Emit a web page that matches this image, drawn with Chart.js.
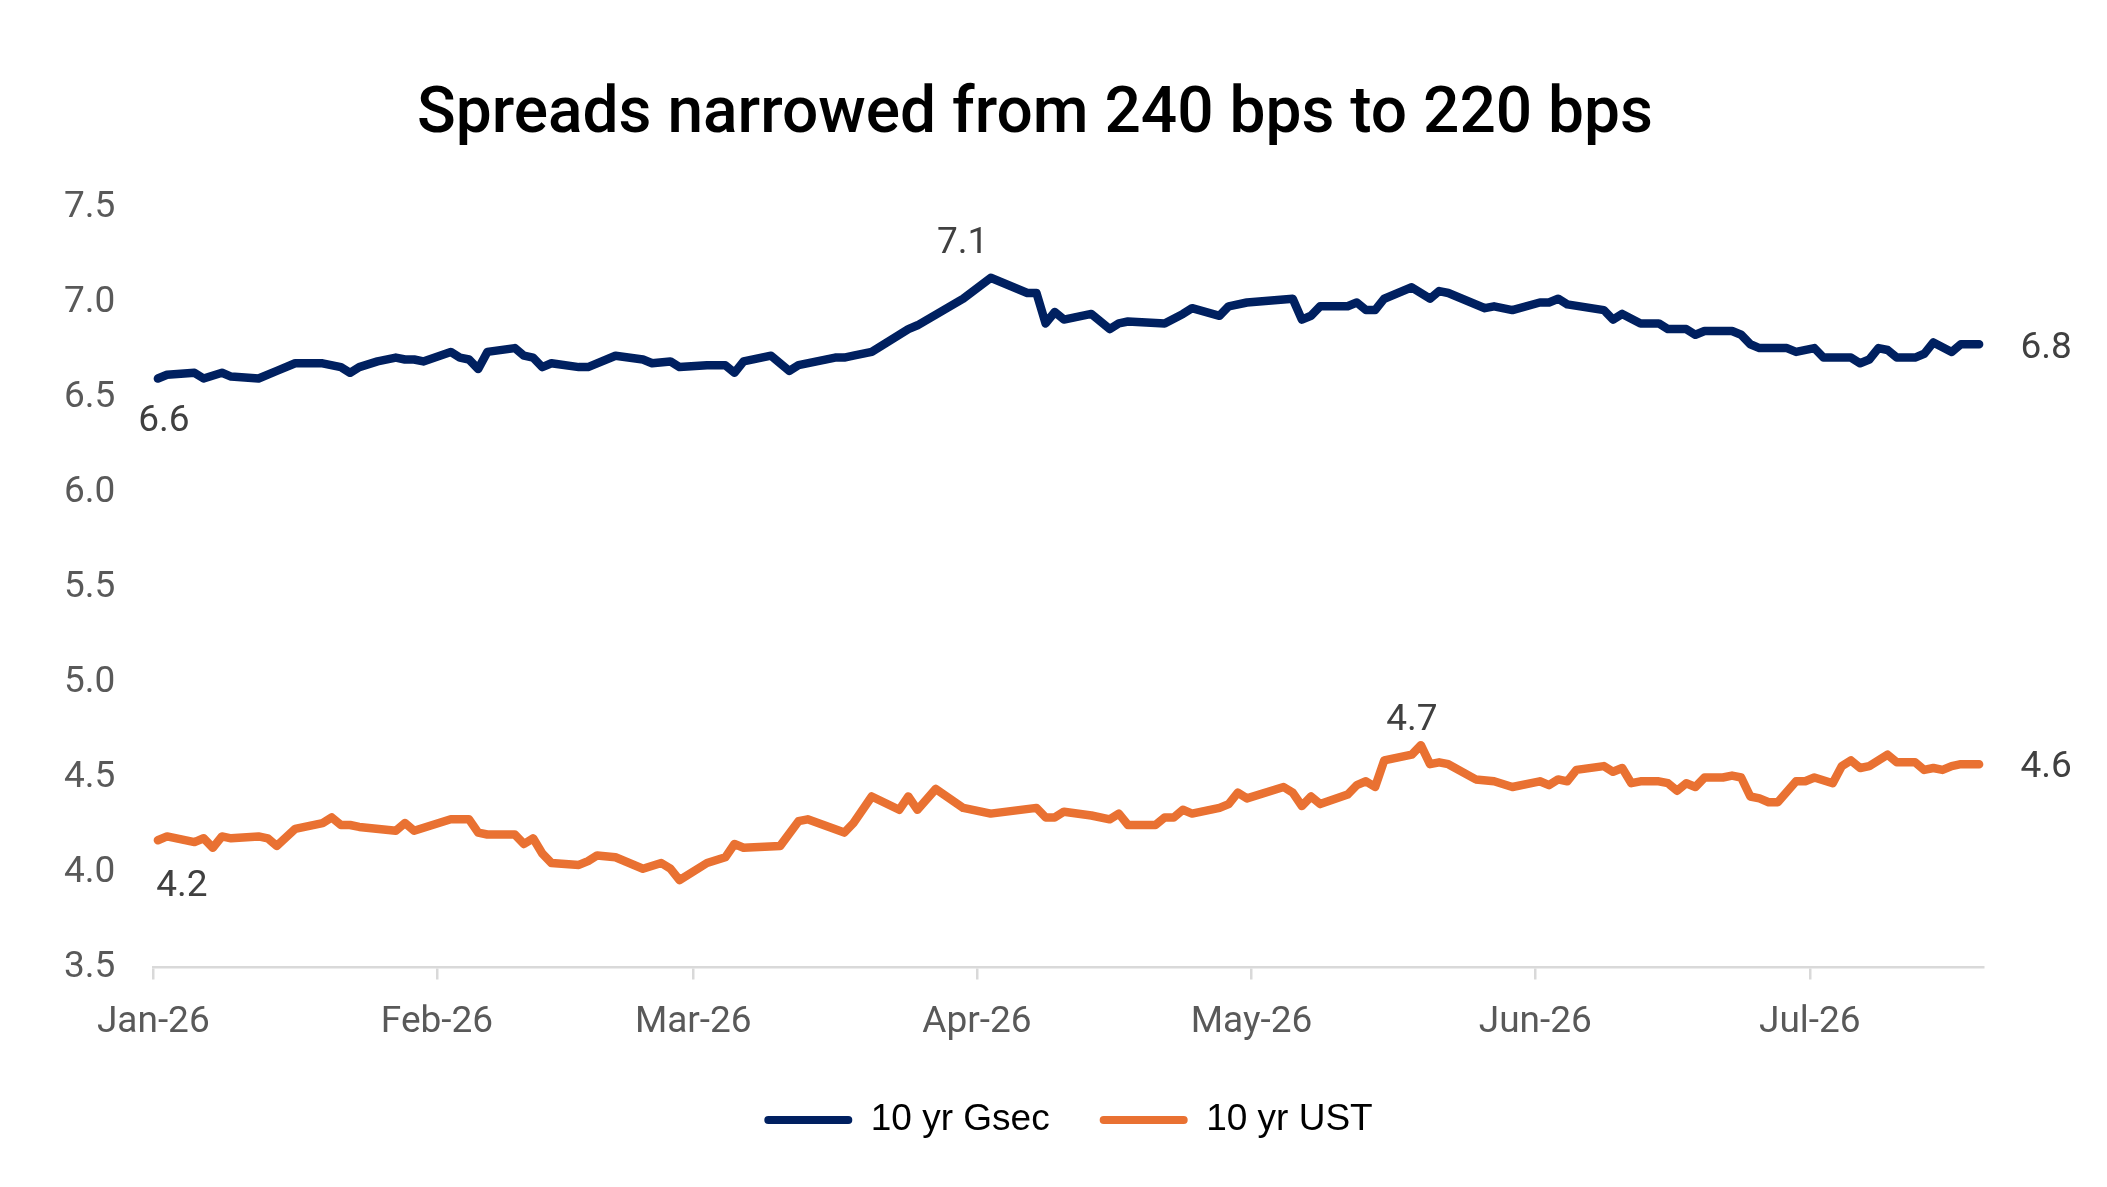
<!DOCTYPE html>
<html>
<head>
<meta charset="utf-8">
<script src="https://cdn.jsdelivr.net/npm/chart.js@4.4.1/dist/chart.umd.min.js"></script>
<style>
  html, body { margin: 0; padding: 0; background: #fff; }
  #wrap { width: 2107px; height: 1187px; }
</style>
</head>
<body>
<div id="wrap"><canvas id="spreads"></canvas></div>
<script>
// days are counted from 1 Jan 2026 (0 = Jan 1)
const monthStarts = [0, 31, 59, 90, 120, 151, 181];
const monthLabels = ["Jan-26", "Feb-26", "Mar-26", "Apr-26", "May-26", "Jun-26", "Jul-26"];

const gsecDays = [0, 1, 4, 5, 7, 8, 11, 13, 15, 18, 20, 21, 22, 24, 26, 27, 28, 29, 32, 33,
  34, 35, 36, 39, 40, 41, 42, 43, 46, 47, 50, 53, 54, 56, 57, 60, 62, 63, 64, 67,
  69, 70, 74, 75, 76, 78, 82, 83, 88, 91, 95, 96, 97, 98, 99, 102, 104, 105, 106, 110,
  112, 113, 116, 117, 119, 124, 125, 126, 127, 130, 131, 132, 133, 134, 137, 139, 140, 141, 145, 146,
  148, 151, 152, 153, 154, 158, 159, 160, 162, 164, 165, 167, 168, 169, 172, 173, 174, 175, 178, 179,
  181, 182, 185, 186, 187, 188, 189, 190, 192, 193, 194, 196, 197, 199];
const gsecYield = [6.60, 6.62, 6.63, 6.60, 6.63, 6.61, 6.60, 6.64, 6.68, 6.68, 6.66, 6.63, 6.66, 6.69, 6.71, 6.70, 6.70, 6.69, 6.74, 6.71,
  6.70, 6.65, 6.74, 6.76, 6.72, 6.71, 6.66, 6.68, 6.66, 6.66, 6.72, 6.70, 6.68, 6.69, 6.66, 6.67, 6.67, 6.63, 6.69, 6.72,
  6.64, 6.67, 6.71, 6.71, 6.72, 6.74, 6.86, 6.88, 7.02, 7.13, 7.05, 7.05, 6.89, 6.95, 6.91, 6.94, 6.86, 6.89, 6.90, 6.89,
  6.94, 6.97, 6.93, 6.98, 7.00, 7.02, 6.91, 6.93, 6.98, 6.98, 7.00, 6.96, 6.96, 7.02, 7.08, 7.02, 7.06, 7.05, 6.97, 6.98,
  6.96, 7.00, 7.00, 7.02, 6.99, 6.96, 6.91, 6.94, 6.89, 6.89, 6.86, 6.86, 6.83, 6.85, 6.85, 6.83, 6.78, 6.76, 6.76, 6.74,
  6.76, 6.71, 6.71, 6.68, 6.70, 6.76, 6.75, 6.71, 6.71, 6.73, 6.79, 6.74, 6.78, 6.78];

const ustDays = [0, 1, 4, 5, 6, 7, 8, 11, 12, 13, 15, 18, 19, 20, 21, 22, 26, 27, 28, 32,
  33, 34, 35, 36, 39, 40, 41, 42, 43, 46, 47, 48, 50, 53, 55, 56, 57, 60, 62, 63,
  64, 68, 70, 71, 75, 76, 78, 81, 82, 83, 85, 88, 91, 96, 97, 98, 99, 102, 104, 105,
  106, 109, 110, 111, 112, 113, 116, 117, 118, 119, 123, 124, 125, 126, 127, 130, 131, 132, 133, 134,
  137, 138, 139, 140, 141, 144, 146, 148, 151, 152, 153, 154, 155, 158, 159, 160, 161, 162, 164, 165,
  166, 167, 168, 169, 171, 172, 173, 174, 175, 176, 177, 179, 180, 181, 183, 184, 185, 186, 187, 189,
  190, 192, 193, 194, 195, 196, 197, 199];
const ustYield = [4.17, 4.19, 4.16, 4.18, 4.13, 4.19, 4.18, 4.19, 4.18, 4.14, 4.23, 4.26, 4.29, 4.25, 4.25, 4.24, 4.22, 4.26, 4.22, 4.28,
  4.28, 4.28, 4.21, 4.20, 4.20, 4.15, 4.18, 4.10, 4.05, 4.04, 4.06, 4.09, 4.08, 4.02, 4.05, 4.02, 3.96, 4.05, 4.08, 4.15,
  4.13, 4.14, 4.27, 4.28, 4.21, 4.26, 4.40, 4.33, 4.40, 4.33, 4.44, 4.34, 4.31, 4.34, 4.29, 4.29, 4.32, 4.30, 4.28, 4.31,
  4.25, 4.25, 4.29, 4.29, 4.33, 4.31, 4.34, 4.36, 4.42, 4.39, 4.45, 4.42, 4.35, 4.40, 4.36, 4.41, 4.46, 4.48, 4.45, 4.59,
  4.62, 4.67, 4.57, 4.58, 4.57, 4.49, 4.48, 4.45, 4.48, 4.46, 4.49, 4.48, 4.54, 4.56, 4.53, 4.55, 4.47, 4.48, 4.48, 4.47,
  4.43, 4.47, 4.45, 4.50, 4.50, 4.51, 4.50, 4.40, 4.39, 4.37, 4.37, 4.48, 4.48, 4.50, 4.47, 4.56, 4.59, 4.55, 4.56, 4.62,
  4.58, 4.58, 4.54, 4.55, 4.54, 4.56, 4.57, 4.57];

const chartTitle = 'Spreads narrowed from 240 bps to 220 bps';

// which points get a value label, and where the label sits relative to the point
const labelSpots = [
  { series: 0, at: 'first', dx: 6, dy: 43 },
  { series: 0, at: 'max', dx: -28, dy: -34 },
  { series: 0, at: 'last', dx: 67, dy: 4 },
  { series: 1, at: 'first', dx: 24, dy: 47 },
  { series: 1, at: 'max', dx: -9, dy: -24 },
  { series: 1, at: 'last', dx: 67, dy: 4 }
];

Chart.defaults.font.family = 'Roboto';

const valueLabels = {
  id: 'valueLabels',
  afterDatasetsDraw(chart) {
    const ctx = chart.ctx;
    ctx.save();
    ctx.font = '37px Roboto';
    ctx.fillStyle = '#404040';
    ctx.textAlign = 'center';
    ctx.textBaseline = 'middle';
    labelSpots.forEach(s => {
      const pts = chart.data.datasets[s.series].data;
      const els = chart.getDatasetMeta(s.series).data;
      let i = 0;
      if (s.at === 'last') i = pts.length - 1;
      if (s.at === 'max') i = pts.reduce((b, p, k) => p.y > pts[b].y ? k : b, 0);
      ctx.fillText(pts[i].y.toFixed(1), els[i].x + s.dx, els[i].y + s.dy);
    });
    ctx.restore();
  }
};

// the title sits a little left of the plot centre, as in the original
const titleText = {
  id: 'titleText',
  afterDraw(chart) {
    const ctx = chart.ctx;
    ctx.save();
    ctx.font = '500 64px Roboto';
    ctx.fillStyle = '#000000';
    ctx.textAlign = 'center';
    ctx.textBaseline = 'middle';
    ctx.fillText(chartTitle, 1035, 115.5);
    ctx.restore();
  }
};

const spreads = document.getElementById("spreads");

new Chart(spreads, {
  type: 'line',
  data: {
    datasets: [
      {
        label: '10 yr Gsec',
        data: gsecDays.map((d, i) => ({ x: d, y: gsecYield[i] })),
        borderColor: '#002060',
        backgroundColor: '#002060',
        borderWidth: 8.5,
        pointRadius: 0,
        tension: 0,
        borderCapStyle: 'round',
        borderJoinStyle: 'round',
        clip: false
      },
      {
        label: '10 yr UST',
        data: ustDays.map((d, i) => ({ x: d, y: ustYield[i] })),
        borderColor: '#E97132',
        backgroundColor: '#E97132',
        borderWidth: 8.5,
        pointRadius: 0,
        tension: 0,
        borderCapStyle: 'round',
        borderJoinStyle: 'round',
        clip: false
      }
    ]
  },
  options: {
    responsive: true,
    maintainAspectRatio: false,
    animation: false,
    devicePixelRatio: 1,
    layout: {
      padding: { left: 0, right: 123.3, top: 207.5, bottom: 38.5 }
    },
    scales: {
      x: {
        type: 'linear',
        min: -0.5,
        max: 199.5,
        bounds: 'data',
        afterBuildTicks: scale => {
          scale.ticks = monthStarts.map(d => ({ value: d - 0.5 }));
        },
        afterFit: scale => { scale.height = 84; },
        ticks: {
          autoSkip: false,
          maxRotation: 0,
          padding: 21,
          color: '#595959',
          font: { size: 37 },
          callback: (value, index) => monthLabels[index]
        },
        grid: {
          drawOnChartArea: false,
          drawTicks: true,
          tickLength: 12,
          color: '#D9D9D9',
          lineWidth: 2.5
        },
        border: { display: true, color: '#D9D9D9', width: 2.5 }
      },
      y: {
        min: 3.5,
        max: 7.5,
        afterFit: scale => { scale.width = 153.3; },
        ticks: {
          stepSize: 0.5,
          padding: 38,
          color: '#595959',
          font: { size: 37 },
          callback: value => value.toFixed(1)
        },
        grid: { display: false, drawTicks: false },
        border: { display: false }
      }
    },
    plugins: {
      title: { display: false },
      legend: {
        position: 'bottom',
        fullSize: false,
        labels: {
          boxWidth: 88,
          boxHeight: 8,
          padding: 50,
          color: '#000000',
          font: { family: 'Liberation Sans', size: 37 },
          generateLabels: chart => chart.data.datasets.map((ds, i) => ({
            text: ds.label,
            fillStyle: ds.borderColor,
            strokeStyle: ds.borderColor,
            lineWidth: 0,
            borderRadius: 4,
            datasetIndex: i,
            hidden: false
          }))
        }
      },
      tooltip: { enabled: false }
    }
  },
  plugins: [valueLabels, titleText]
});
</script>
</body>
</html>
